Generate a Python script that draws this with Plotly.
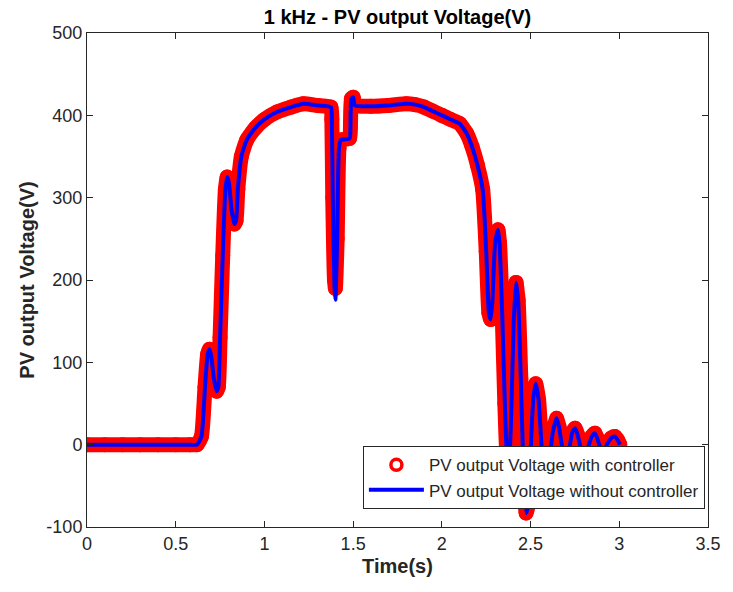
import plotly.graph_objects as go

# Time (s) samples
time_s = [0, 0.1, 0.2, 0.3, 0.4, 0.5, 0.58, 0.62, 0.645, 0.665, 0.68, 0.69, 0.70, 0.715, 0.73, 0.74, 0.75, 0.765, 0.78, 0.79,
          0.80, 0.815, 0.83, 0.84, 0.85, 0.87, 0.90, 0.95, 1.00, 1.07, 1.15, 1.22, 1.30, 1.375,
          1.38, 1.385, 1.395, 1.40, 1.41, 1.42, 1.43, 1.48, 1.485, 1.49, 1.50, 1.51, 1.60, 1.70,
          1.80, 1.85, 1.90, 1.95, 2.00, 2.05, 2.10, 2.14, 2.17, 2.20, 2.23, 2.25, 2.265, 2.275,
          2.285, 2.30, 2.316, 2.325, 2.34, 2.355, 2.37, 2.38, 2.39, 2.405, 2.418, 2.43, 2.445,
          2.46, 2.475, 2.485, 2.50, 2.515, 2.529, 2.545, 2.565, 2.585, 2.60, 2.625, 2.646, 2.66,
          2.68, 2.70, 2.715, 2.735, 2.751, 2.765, 2.785, 2.805, 2.825, 2.845, 2.862, 2.875, 2.895,
          2.915, 2.935, 2.955, 2.974, 2.99, 3.003]

# PV output voltage without controller (blue line)
v_without = [0, 0, 0, 0, 0, 0, 0, 0, 10, 70, 110, 116, 108, 80, 65, 70, 130, 230, 310, 325,
             318, 285, 268, 272, 310, 350, 370, 385, 395, 404, 410, 414, 412, 410,
             395, 300, 190, 176, 250, 360, 370, 372, 390, 420, 422, 412, 411, 412,
             414, 413, 410, 405, 400, 395, 390, 378, 362, 340, 310, 235, 160, 152,
             175, 245, 261, 245, 160, 50, -20, -15, 30, 150, 197, 175, 80,
             -30, -83, -75, -10, 55, 74, 55, -10, -38, -30, 15, 32, 22,
             -5, -15, -8, 15, 20, 12, -5, -10, -2, 10, 14, 8, -4,
             -6, 2, 8, 10, 6, 0]

# PV output voltage with controller (red circles)
v_with = [0, 0, 0, 0, 0, 0, 0, 0, 10, 70, 110, 116, 108, 80, 65, 70, 130, 230, 310, 325,
          318, 285, 268, 272, 310, 350, 370, 385, 395, 404, 410, 414, 412, 410,
          395, 300, 200, 190, 250, 360, 370, 372, 390, 420, 422, 412, 411, 412,
          414, 413, 410, 405, 400, 395, 390, 378, 362, 340, 310, 235, 160, 152,
          175, 245, 261, 245, 160, 50, -20, -15, 30, 150, 197, 175, 80,
          -30, -83, -75, -10, 55, 74, 55, -10, -38, -30, 15, 32, 22,
          -5, -15, -8, 15, 20, 12, -5, -10, -2, 10, 14, 8, -4,
          -6, 2, 8, 10, 6, 0]

x_ticks = [0, 0.5, 1, 1.5, 2, 2.5, 3, 3.5]
y_ticks = [-100, 0, 100, 200, 300, 400, 500]

name_with = "PV output Voltage with controller"
name_without = "PV output Voltage without controller"

fig = go.Figure()
# red band of dense circle markers
fig.add_trace(go.Scatter(x=time_s, y=v_with, mode="lines+markers",
                         line=dict(color="#ff0000", width=15, shape="spline", smoothing=0.5),
                         marker=dict(color="#ff0000", size=15, symbol="circle"),
                         showlegend=False, hoverinfo="skip"))
# legend entry for red circles
fig.add_trace(go.Scatter(x=[None], y=[None], mode="markers", name=name_with,
                         marker=dict(symbol="circle-open", size=11, color="#ff0000",
                                     line=dict(width=3.5, color="#ff0000"))))
fig.add_trace(go.Scatter(x=time_s, y=v_without, mode="lines", name=name_without,
                         line=dict(color="#0000ff", width=4, shape="spline", smoothing=0.5)))

axis_common = dict(showgrid=False, zeroline=False, showline=True, linecolor="#262626",
                   linewidth=1, mirror="ticks", ticks="inside", ticklen=6,
                   tickcolor="#262626", tickfont=dict(size=18, color="#262626"))

fig.update_layout(
    width=733, height=592,
    margin=dict(l=87, r=17, t=33, b=65),
    paper_bgcolor="white", plot_bgcolor="white",
    font=dict(family="Liberation Sans, Arial, sans-serif", color="#262626"),
    title=dict(text="<b>1 kHz - PV output Voltage(V)</b>", x=0.5, xanchor="center",
               xref="paper", y=0.971, yanchor="middle",
               font=dict(size=20, color="#000000")),
    xaxis=dict(range=[0, 3.5], tickvals=x_ticks, ticktext=[str(v) for v in x_ticks],
               title=dict(text="<b>Time(s)</b>", font=dict(size=20, color="#262626"), standoff=6),
               **axis_common),
    yaxis=dict(range=[-100, 500], tickvals=y_ticks, ticktext=[str(v) for v in y_ticks],
               title=dict(text="<b>PV output Voltage(V)</b>", font=dict(size=20, color="#262626"), standoff=6),
               **axis_common),
    legend=dict(x=0.995, xanchor="right", y=0.036, yanchor="bottom",
                bgcolor="white", bordercolor="#262626", borderwidth=1,
                font=dict(size=17, color="#262626"), itemwidth=55,
                tracegroupgap=0),
)

fig.write_html("out.html")
